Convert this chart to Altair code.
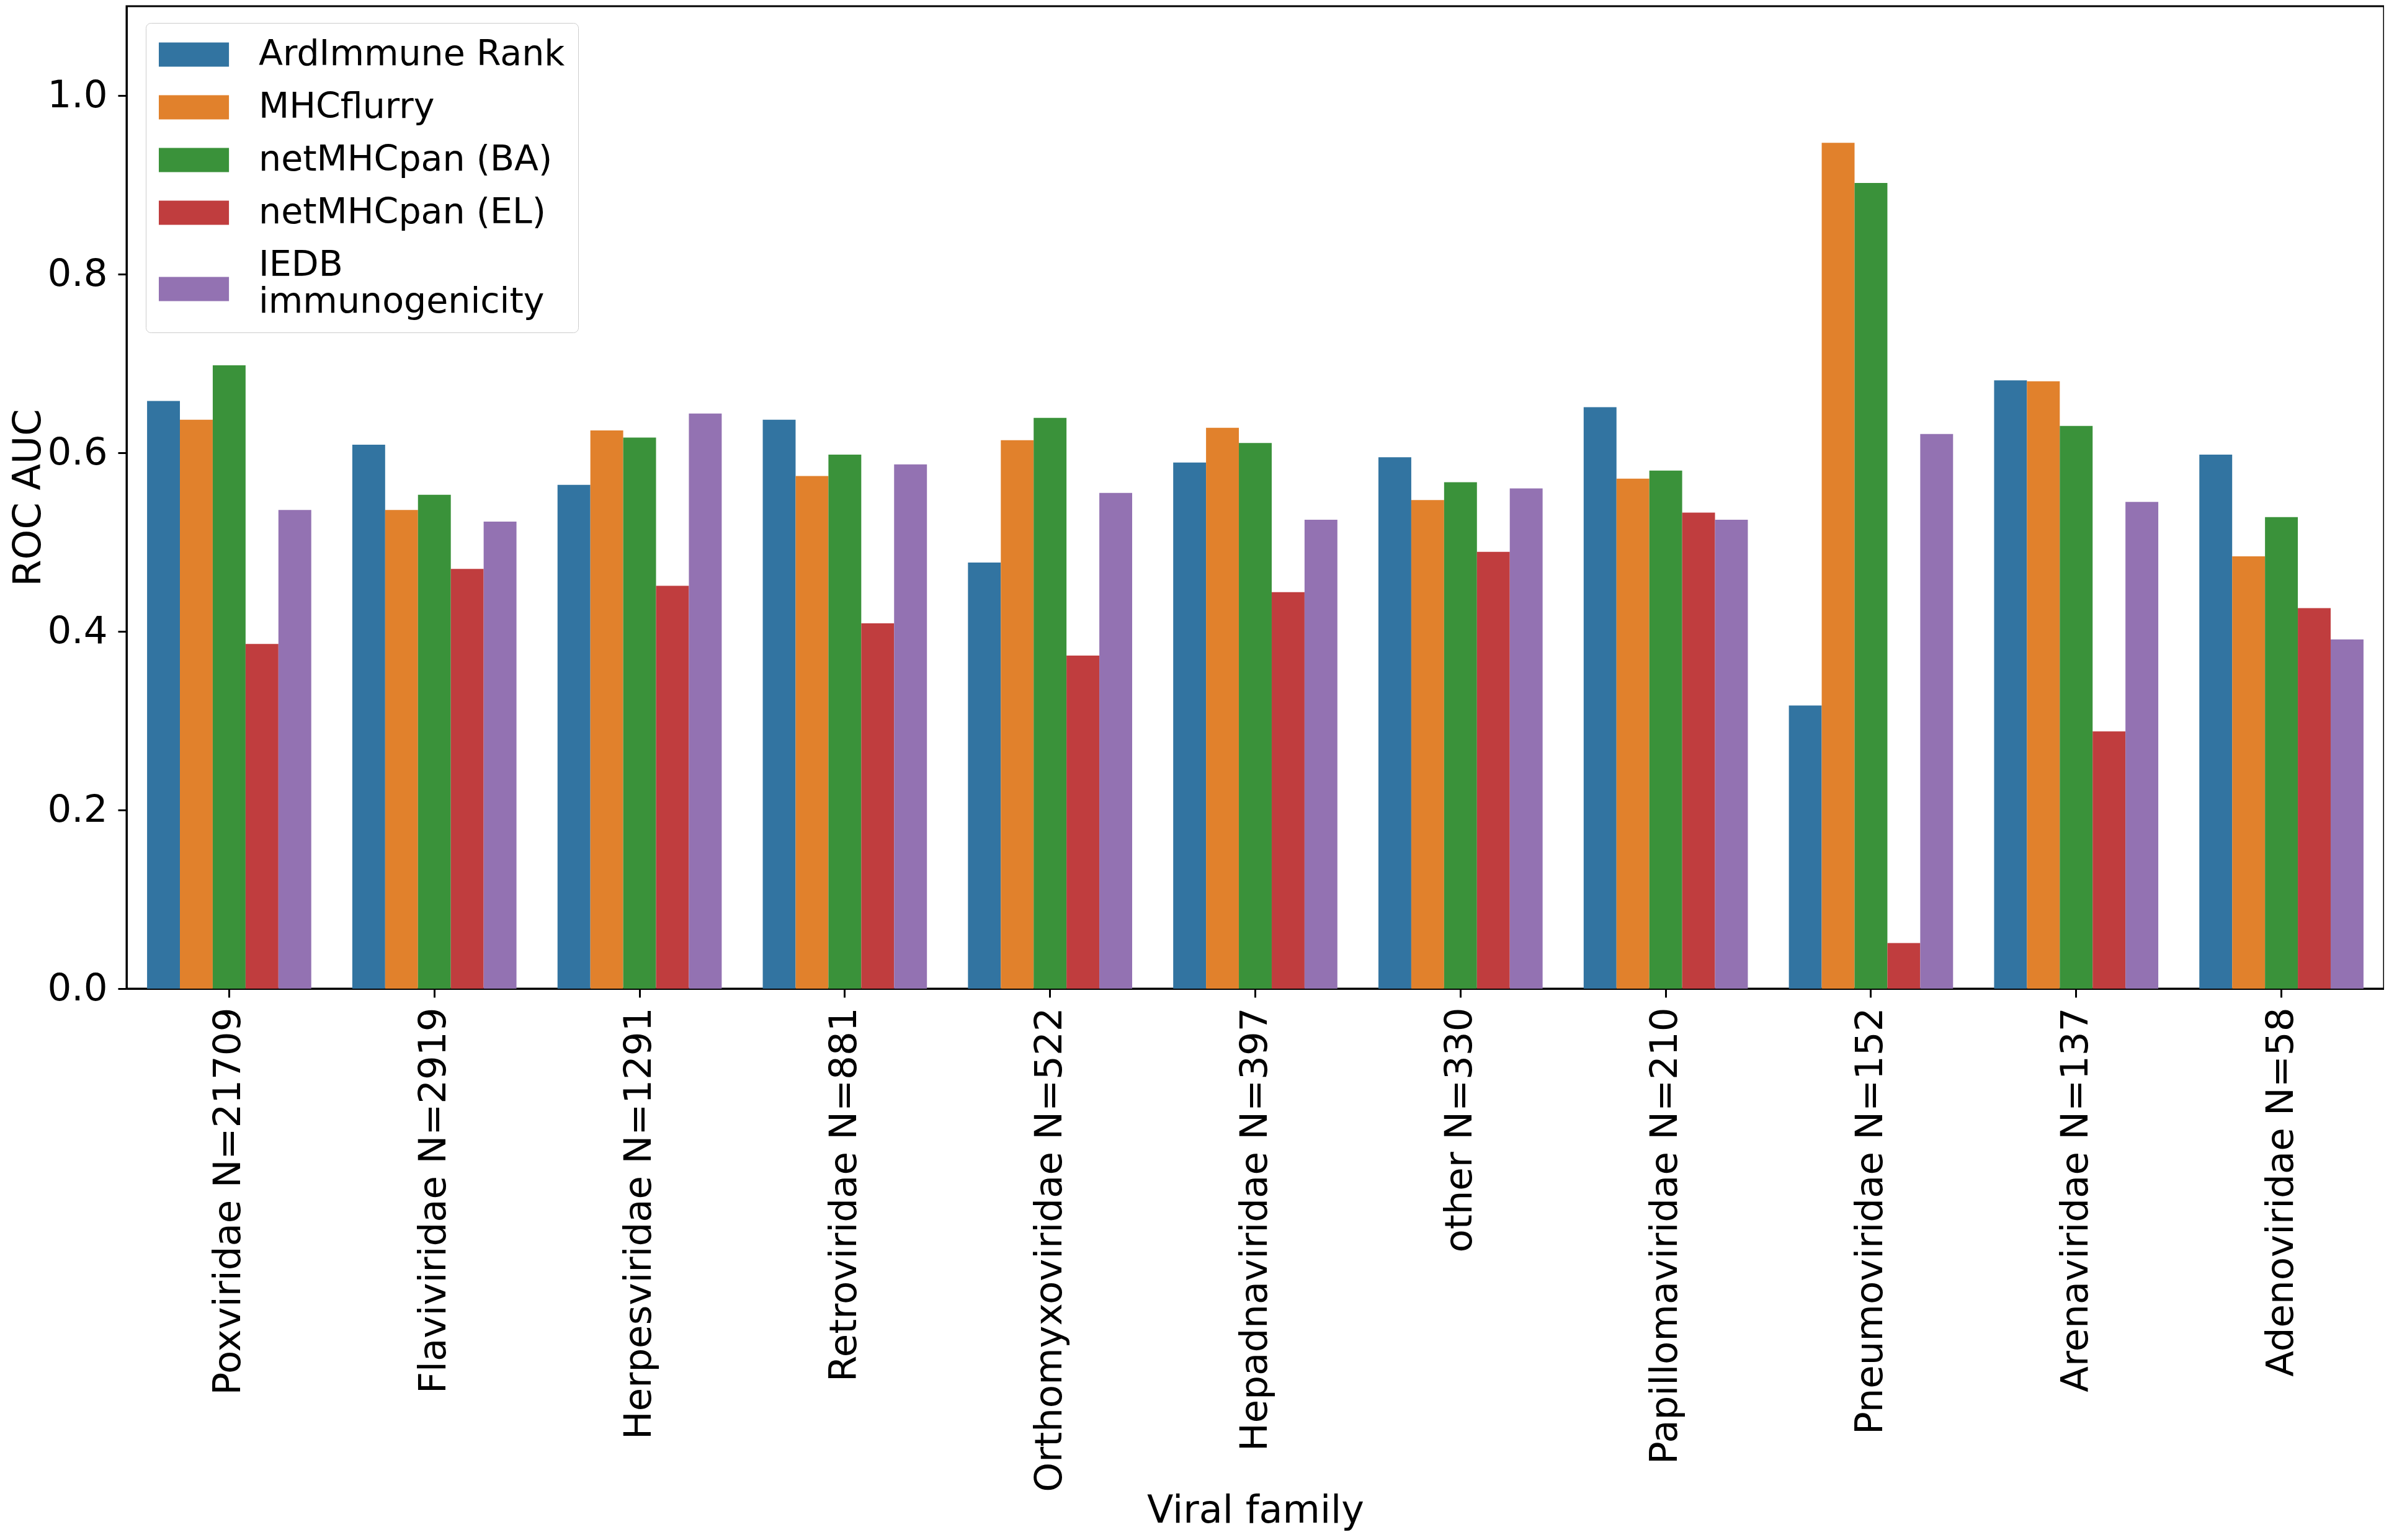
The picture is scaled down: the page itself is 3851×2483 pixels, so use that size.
import altair as alt
import pandas as pd

families = [
    "Poxviridae N=21709", "Flaviviridae N=2919", "Herpesviridae N=1291",
    "Retroviridae N=881", "Orthomyxoviridae N=522", "Hepadnaviridae N=397",
    "other N=330", "Papillomaviridae N=210", "Pneumoviridae N=152",
    "Arenaviridae N=137", "Adenoviridae N=58",
]
methods = ["ArdImmune Rank", "MHCflurry", "netMHCpan (BA)", "netMHCpan (EL)",
           "IEDB immunogenicity"]
colors = ["#3274a1", "#e1812c", "#3a923a", "#c03d3e", "#9372b2"]

ardimmune = [0.658, 0.609, 0.564, 0.637, 0.477, 0.589, 0.595, 0.651, 0.317, 0.681, 0.598]
mhcflurry = [0.637, 0.536, 0.625, 0.574, 0.614, 0.628, 0.547, 0.571, 0.947, 0.680, 0.484]
netmhc_ba = [0.698, 0.553, 0.617, 0.598, 0.639, 0.611, 0.567, 0.580, 0.902, 0.630, 0.528]
netmhc_el = [0.386, 0.470, 0.451, 0.409, 0.373, 0.444, 0.489, 0.533, 0.051, 0.288, 0.426]
iedb_imm = [0.536, 0.523, 0.644, 0.587, 0.555, 0.525, 0.560, 0.525, 0.621, 0.545, 0.391]

series = [ardimmune, mhcflurry, netmhc_ba, netmhc_el, iedb_imm]
rows = []
for m, vals in zip(methods, series):
    for f, v in zip(families, vals):
        rows.append({"family": f, "method": m, "auc": v})
df = pd.DataFrame(rows)

TICK_FS = 61
TITLE_FS = 62
LEG_FS = 57
W, H = 3639, 1584

# legend swatch shapes (unit = sqrt(symbolSize)/2): wide rectangles;
# the two-line entry's swatch sits between its two text lines
swatch = "M-1,-0.65L2.77,-0.65L2.77,0.65L-1,0.65Z"
swatch_low = "M-1,0.62L2.77,0.62L2.77,1.92L-1,1.92Z"
shapes = [swatch, swatch, swatch, swatch, swatch_low]

legend = alt.Legend(
    title=None, orient="none", legendX=31, legendY=27,
    labelFontSize=LEG_FS, labelColor="black",
    labelExpr="datum.label == 'IEDB immunogenicity' ? ['IEDB', 'immunogenicity'] : datum.label",
    symbolSize=3600, symbolStrokeWidth=0, symbolOpacity=1,
    labelOffset=101, rowPadding=27, padding=21,
    strokeColor="#cccccc", fillColor="white",
    cornerRadius=8, labelLimit=2000)

x_enc = alt.X("family:N", sort=families,
              scale=alt.Scale(paddingInner=0.2, paddingOuter=0.1),
              axis=alt.Axis(title="Viral family", labelAngle=-90,
                            labelFontSize=TICK_FS, titleFontSize=TITLE_FS,
                            titleFontWeight="normal",
                            tickSize=14, tickWidth=3, domainWidth=3,
                            domainColor="black", tickColor="black",
                            labelColor="black", titleColor="black",
                            labelPadding=16, labelLimit=2000,
                            titleX=W / 2, titleY=860, titleBaseline="alphabetic",
                            titleAlign="center"))
xo_enc = alt.XOffset("method:N", sort=methods,
                     scale=alt.Scale(paddingInner=0, paddingOuter=0))
y_enc = alt.Y("auc:Q", scale=alt.Scale(domain=[0, 1.1], nice=False, zero=True),
              axis=alt.Axis(title="ROC AUC", values=[0, 0.2, 0.4, 0.6, 0.8, 1.0],
                            format=".1f", labelFontSize=TICK_FS,
                            titleFontSize=TITLE_FS,
                            titleFontWeight="normal", tickSize=14, tickWidth=3,
                            domainWidth=3, domainColor="black", tickColor="black",
                            labelColor="black", titleColor="black", grid=False,
                            labelPadding=17, titleX=-140, titleY=H / 2,
                            titleBaseline="alphabetic", titleAlign="center",
                            titleAngle=270))
c_enc = alt.Color("method:N", sort=methods,
                  scale=alt.Scale(domain=methods, range=colors), legend=legend)

bars = alt.Chart(df).mark_bar(strokeWidth=0).encode(
    x=x_enc, xOffset=xo_enc, y=y_enc, color=c_enc)

keys = alt.Chart(df).mark_point(filled=True, size=0, opacity=0).encode(
    x=x_enc, xOffset=xo_enc, y=y_enc, color=c_enc,
    shape=alt.Shape("method:N", sort=methods,
                    scale=alt.Scale(domain=methods, range=shapes), legend=legend))

chart = alt.layer(bars, keys).properties(
    width=W, height=H,
    autosize=alt.AutoSizeParams(type="none"),
    padding={"left": 196, "top": 2, "right": 0, "bottom": 876},
).configure(font="DejaVu Sans").configure_view(stroke="black", strokeWidth=3)

chart.save("out.html", embed_options={"renderer": "svg", "actions": False})
